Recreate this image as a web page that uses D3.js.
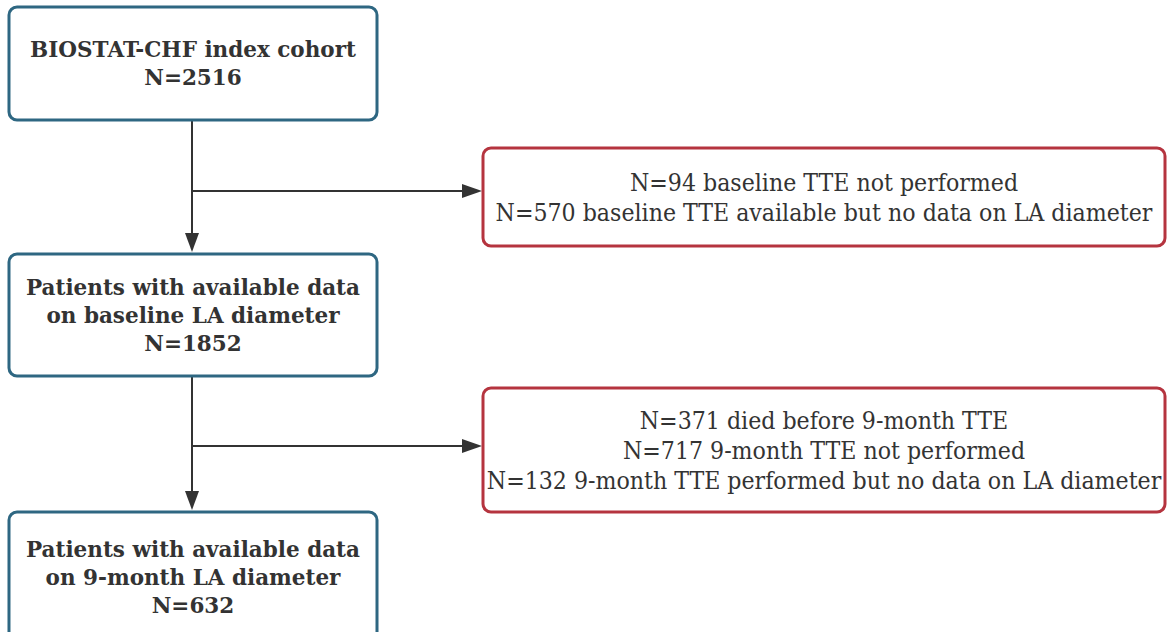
<!DOCTYPE html>
<html>
<head>
<meta charset="utf-8">
<script src="https://d3js.org/d3.v7.min.js"></script>
<style>
  body { margin: 0; background: #fff; }
</style>
</head>
<body>
<div id="chart"></div>
<script>
// flowchart content
var mainSteps = [
  ["BIOSTAT-CHF index cohort", "N=2516"],
  ["Patients with available data", "on baseline LA diameter", "N=1852"],
  ["Patients with available data", "on 9-month LA diameter", "N=632"]
];
var mainCounts = [2516, 1852, 632];

var exclusions = [
  ["N=94 baseline TTE not performed",
   "N=570 baseline TTE available but no data on LA diameter"],
  ["N=371 died before 9-month TTE",
   "N=717 9-month TTE not performed",
   "N=132 9-month TTE performed but no data on LA diameter"]
];

var width = 1167, height = 632;

var svg = d3.select("#chart")
    .append("svg")
    .attr("width", width)
    .attr("height", height);

// box geometry
var mainBoxes = [
  {x: 9, y: 7, w: 368, h: 113},
  {x: 9, y: 254, w: 368, h: 122},
  {x: 9, y: 512, w: 368, h: 130}
];
var exclBoxes = [
  {x: 483, y: 148, w: 682, h: 98, arrowY: 191},
  {x: 483, y: 388, w: 682, h: 124, arrowY: 446}
];

var teal = "#2e6782", red = "#b5343f", ink = "#333";
var cx = 192;

// connectors
[0, 1].forEach(function (i) {
  var top = mainBoxes[i].y + mainBoxes[i].h,
      bot = mainBoxes[i + 1].y - 2,
      ey = exclBoxes[i].arrowY,
      ex = exclBoxes[i].x - 1;
  svg.append("path")
      .attr("d", "M" + cx + "," + top + " L" + cx + "," + (bot - 15))
      .attr("stroke", ink)
      .attr("stroke-width", 2)
      .attr("fill", "none");
  svg.append("path")
      .attr("d", "M" + (cx - 7) + "," + (bot - 19) + " L" + (cx + 7) + "," + (bot - 19) + " L" + cx + "," + bot + " Z")
      .attr("fill", ink);
  svg.append("path")
      .attr("d", "M" + cx + "," + ey + " L" + (ex - 15) + "," + ey)
      .attr("stroke", ink)
      .attr("stroke-width", 2);
  svg.append("path")
      .attr("d", "M" + (ex - 20) + "," + (ey - 7) + " L" + (ex - 20) + "," + (ey + 7) + " L" + ex + "," + ey + " Z")
      .attr("fill", ink);
});

function drawBox(b, lines, stroke, bold) {
  var lineH = bold ? 28 : 30;
  var g = svg.append("g");
  g.append("rect")
      .attr("x", b.x).attr("y", b.y)
      .attr("width", b.w).attr("height", b.h)
      .attr("rx", 8).attr("ry", 8)
      .attr("fill", "#fff")
      .attr("stroke", stroke)
      .attr("stroke-width", 3);
  var tx = b.x + b.w / 2;
  var ty0 = b.y + b.h / 2 - (lines.length - 1) * lineH / 2;
  g.selectAll("text")
      .data(lines)
      .enter()
      .append("text")
      .attr("x", tx)
      .attr("y", function (d, i) { return ty0 + i * lineH; })
      .attr("dy", "0.35em")
      .attr("text-anchor", "middle")
      .attr("font-family", bold ? "'DejaVu Serif', serif" : "'DejaVu Serif Condensed', 'DejaVu Serif', serif")
      .attr("font-weight", bold ? "bold" : "normal")
      .attr("font-size", bold ? "21.5px" : "24.6px")
      .attr("fill", ink)
      .text(function (d) { return d; });
}

mainBoxes.forEach(function (b, i) { drawBox(b, mainSteps[i], teal, true); });
exclBoxes.forEach(function (b, i) { drawBox(b, exclusions[i], red, false); });
</script>
</body>
</html>
